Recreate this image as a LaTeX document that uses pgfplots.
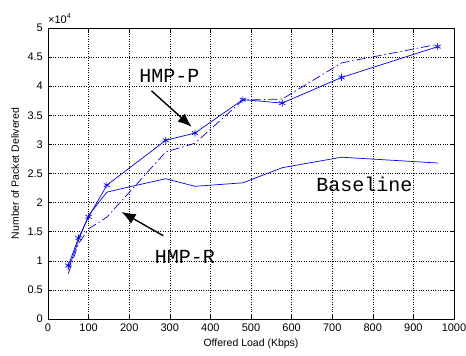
\documentclass[border=0pt]{standalone}
\usepackage{fontspec}
\setmainfont{Liberation Sans}
\newfontfamily\cour{Liberation Mono}
\usepackage{pgfplots}
\pgfplotsset{compat=1.18}
\usetikzlibrary{arrows.meta}
\definecolor{mblue}{RGB}{0,0,255}
\begin{document}
\fontsize{11bp}{13bp}\selectfont
\begin{tikzpicture}
\useasboundingbox (-48bp,-37bp) rectangle (418bp,319bp);
\begin{axis}[
  scale only axis, width=406bp, height=291bp,
  xmin=0, xmax=1000, ymin=0, ymax=50000,
  xtick={0,100,...,1000}, ytick={0,5000,...,50000},
  scaled y ticks=base 10:-4,
  ytick scale label code/.code={},
  /pgf/number format/assume math mode=true,
  /pgf/number format/1000 sep={},
  tick label style={font=\fontsize{11bp}{13bp}\selectfont},
  label style={font=\fontsize{10.5bp}{13bp}\selectfont},
  tick align=inside, major tick length=4bp,
  grid=major, major grid style={black, dotted, line width=0.6pt},
  axis line style={black, line width=0.8pt},
  tick style={black, line width=0.6pt},
  yticklabel style={anchor=east, inner sep=0pt, xshift=-5bp},
  xticklabel style={anchor=north, inner sep=0pt, yshift=-5bp},
  xlabel={Offered Load (Kbps)},
  ylabel={Number of Packet Delivered},
  xlabel style={at={(axis description cs:0.5,-0.086)}, anchor=center},
  ylabel style={at={(axis description cs:-0.081,0.5)}, anchor=center},
  clip=false,
]
% Baseline
\addplot[mblue, line width=0.7pt] coordinates {
 (50,8500) (75,13500) (100,17800) (145,21800) (200,22700) (290,24100) (362,22800) (480,23400) (577,26000) (723,27800) (960,26800)};
% HMP-R
\addplot[mblue, line width=0.7pt, dash pattern=on 9pt off 3pt on 1.5pt off 3pt] coordinates {
 (50,7800) (75,12900) (100,15500) (145,17500) (290,28700) (362,30200) (480,37600) (577,37800) (723,44000) (960,47200)};
% HMP-P
\addplot[mblue, line width=0.7pt, mark=asterisk, mark size=3.5pt, mark options={line width=0.7pt}] coordinates {
 (50,9200) (75,13900) (100,17550) (145,23000) (290,30700) (362,31950) (480,37700) (577,37100) (723,41500) (960,46800)};
\draw[black, line width=1.4pt, -{Latex[length=14bp,width=11bp]}] (axis cs:255,39200) -- (axis cs:354,33000);
\draw[black, line width=1.4pt, -{Latex[length=14bp,width=11bp]}] (axis cs:284,14300) -- (axis cs:181,18400);
\node[font={\cour\fontsize{20bp}{22bp}\selectfont}, inner sep=0pt] at (axis cs:299,41800) {HMP-P};
\node[font={\cour\fontsize{20bp}{22bp}\selectfont}, inner sep=0pt] at (axis cs:337,10600) {HMP-R};
\node[font={\cour\fontsize{20bp}{22bp}\selectfont}, inner sep=0pt] at (axis cs:779,23200) {Baseline};
\node[anchor=base west, inner sep=0pt, font=\fontsize{11bp}{13bp}\selectfont] at ([yshift=5bp]rel axis cs:0,1) {×10\raisebox{5bp}{\fontsize{7bp}{8bp}\selectfont 4}};
\end{axis}
\end{tikzpicture}
\end{document}
